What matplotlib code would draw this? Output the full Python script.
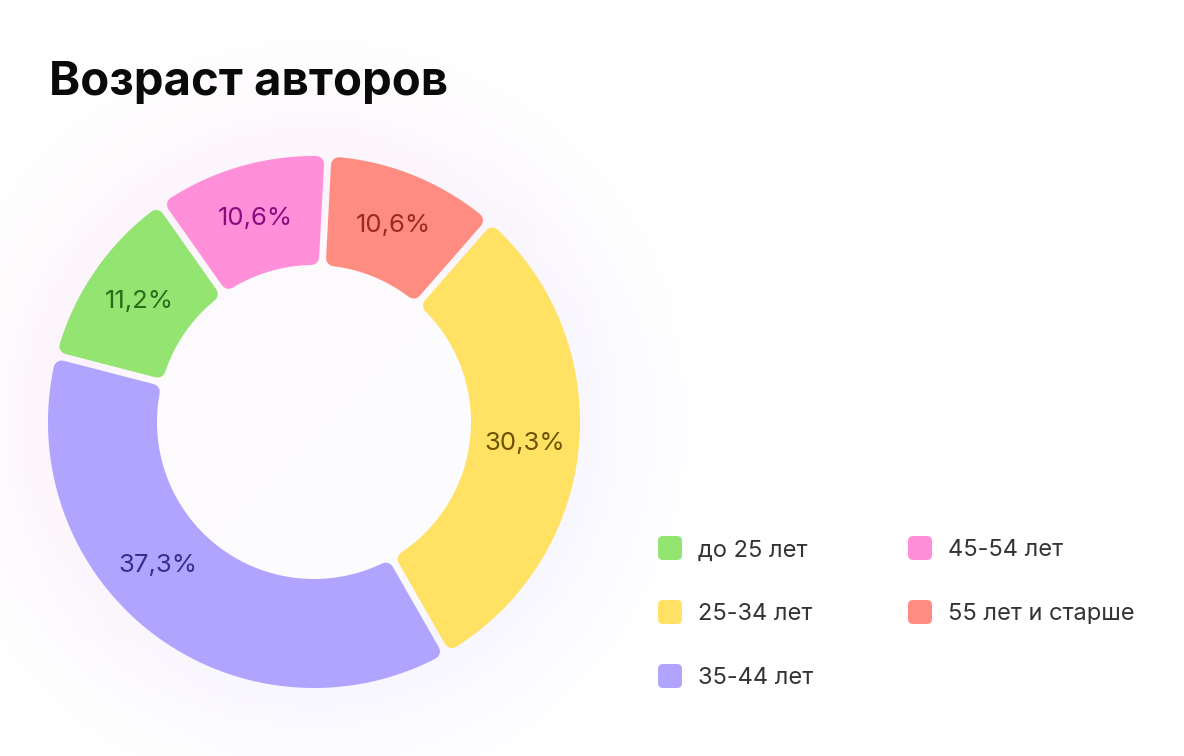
import numpy as np
import matplotlib.pyplot as plt
from matplotlib.patches import Polygon, FancyBboxPatch

# ------------------------
# Data
# ------------------------
categories = ["до 25 лет", "25-34 лет", "35-44 лет", "45-54 лет", "55 лет и старше"]
shares = [11.2, 30.3, 37.3, 10.6, 10.6]
colors = ["#94e472", "#ffe264", "#b0a4ff", "#ff8fd8", "#ff8c80"]
label_colors = ["#2c6a1c", "#6b5200", "#3a2d8c", "#8a0a80", "#9b2a22"]

# order of the slices clockwise from the top
ring_order = [4, 1, 2, 0, 3]
title = "Возраст авторов"

# ------------------------
# Geometry (pixels)
# ------------------------
W, H = 1184, 756
cx, cy = 314, 422
R_out, R_in = 266, 157
gap, corner = 7, 8
start_angle = 87.0
label_r = 212
label_shift = {2: -10}  # nudge the big slice label like the original

fig = plt.figure(figsize=(W / 100, H / 100), dpi=100)
ax = fig.add_axes([0, 0, 1, 1])
ax.set_xlim(0, W)
ax.set_ylim(H, 0)
ax.set_aspect("equal")
ax.axis("off")
plt.rcParams["font.family"] = ["Inter", "DejaVu Sans"]

# ------------------------
# Soft halo behind the ring (pink top-left, lavender bottom-right)
# ------------------------
yy, xx = np.mgrid[0:H:2, 0:W:2].astype(float)
rr = np.hypot(xx - cx, yy - cy)
strength = np.clip(1 - np.abs(rr - 240) / 170, 0, 1) ** 1.5
strength = np.maximum(strength, 0.35 * (rr < 240))
mix = np.clip(((xx - cx) + (yy - cy)) / 500 + 0.5, 0, 1)[..., None]
pink = np.array([252, 242, 251]) / 255
lav = np.array([247, 245, 255]) / 255
tint = pink * (1 - mix) + lav * mix
img = 1 - (1 - tint) * strength[..., None]
ax.imshow(img, extent=[0, W, H, 0], interpolation="bilinear", zorder=0)
ax.set_xlim(0, W)
ax.set_ylim(H, 0)


def slice_points(a1, a2, r_in, r_out, d):
    s_out = np.degrees(np.arcsin(d / r_out))
    s_in = np.degrees(np.arcsin(d / r_in))
    t = np.radians(np.linspace(a1 - s_out, a2 + s_out, 120))
    outer = np.column_stack([cx + r_out * np.cos(t), cy - r_out * np.sin(t)])
    t = np.radians(np.linspace(a2 + s_in, a1 - s_in, 120))
    inner = np.column_stack([cx + r_in * np.cos(t), cy - r_in * np.sin(t)])
    return np.vstack([outer, inner])


total = sum(shares)
a = start_angle
for i in ring_order:
    span = 360.0 * shares[i] / total
    a1, a2 = a, a - span
    pts = slice_points(a1, a2, R_in + corner, R_out - corner, gap / 2 + corner)
    ax.add_patch(Polygon(pts, closed=True, fc=colors[i], ec=colors[i],
                         lw=2 * corner * 0.72, joinstyle="round", zorder=2))
    mid = np.radians((a1 + a2) / 2 + label_shift.get(i, 0))
    txt = f"{shares[i]:.1f}%".replace(".", ",")
    ax.text(cx + label_r * np.cos(mid), cy - label_r * np.sin(mid), txt,
            ha="center", va="center", fontsize=18.5, color=label_colors[i], zorder=3)
    a = a2

# title
ax.text(49, 95, title, fontsize=34, fontweight="bold", color="#0a0a0a",
        ha="left", va="baseline", zorder=3)

# legend, two columns
leg_x = [670, 920]
leg_y = [548, 612, 676]
for k, name in enumerate(categories):
    col, row = divmod(k, 3)
    x, y = leg_x[col], leg_y[row]
    ax.add_patch(FancyBboxPatch((x - 8, y - 8), 16, 16,
                                boxstyle="round,pad=4,rounding_size=5",
                                fc=colors[k], ec="none", zorder=3))
    ax.text(x + 28, y, name, fontsize=17, color="#333333",
            ha="left", va="center_baseline", zorder=3)

fig.savefig("out.png", dpi=100, facecolor="white")
